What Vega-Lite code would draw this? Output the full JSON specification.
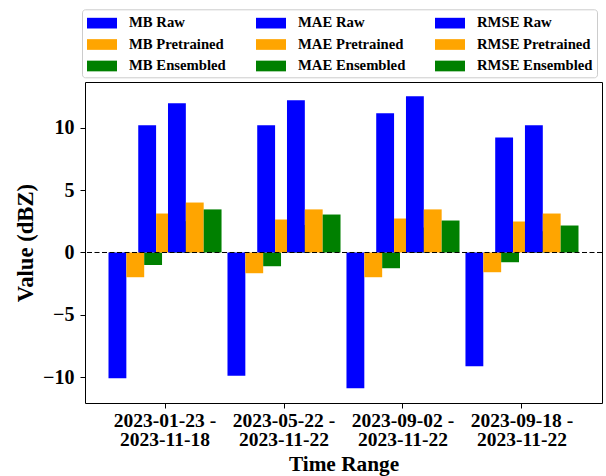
{
  "$schema": "https://vega.github.io/schema/vega-lite/v6.json",
  "width": 517,
  "height": 321,
  "autosize": {"type": "none"},
  "padding": {"left": 85, "top": 82, "right": 4, "bottom": 73},
  "background": "white",
  "config": {
    "font": "Liberation Serif",
    "view": {"stroke": "black", "strokeWidth": 1},
    "axis": {
      "labelFont": "Liberation Serif",
      "titleFont": "Liberation Serif",
      "labelFontWeight": "bold",
      "titleFontWeight": "bold",
      "labelColor": "black",
      "titleColor": "black",
      "tickColor": "black",
      "tickSize": 5,
      "grid": false,
      "domain": false
    },
    "legend": {
      "orient": "none",
      "legendX": -3,
      "legendY": -72.7,
      "columns": 3,
      "symbolType": "M-1.5,-0.535H1.5V0.535H-1.5Z",
      "symbolSize": 400,
      "symbolStrokeWidth": 0,
      "symbolOffset": 6.3,
      "labelFont": "Liberation Serif",
      "labelFontWeight": "bold",
      "labelFontSize": 14.7,
      "labelColor": "black",
      "labelOffset": 17,
      "columnPadding": 28,
      "rowPadding": 4.5,
      "padding": 3.7,
      "strokeColor": "#cccccc",
      "fillColor": "white",
      "cornerRadius": 3
    }
  },
  "data": {
    "values": [
      {"range": "2023-01-23 - 2023-11-18", "metric": "MB", "model": "Raw", "series": "MB Raw", "value": -10.07},
      {"range": "2023-01-23 - 2023-11-18", "metric": "MB", "model": "Pretrained", "series": "MB Pretrained", "value": -1.98},
      {"range": "2023-01-23 - 2023-11-18", "metric": "MB", "model": "Ensembled", "series": "MB Ensembled", "value": -1.0},
      {"range": "2023-01-23 - 2023-11-18", "metric": "MAE", "model": "Raw", "series": "MAE Raw", "value": 10.18},
      {"range": "2023-01-23 - 2023-11-18", "metric": "MAE", "model": "Pretrained", "series": "MAE Pretrained", "value": 3.12},
      {"range": "2023-01-23 - 2023-11-18", "metric": "MAE", "model": "Ensembled", "series": "MAE Ensembled", "value": 2.5},
      {"range": "2023-01-23 - 2023-11-18", "metric": "RMSE", "model": "Raw", "series": "RMSE Raw", "value": 11.94},
      {"range": "2023-01-23 - 2023-11-18", "metric": "RMSE", "model": "Pretrained", "series": "RMSE Pretrained", "value": 4.0},
      {"range": "2023-01-23 - 2023-11-18", "metric": "RMSE", "model": "Ensembled", "series": "RMSE Ensembled", "value": 3.45},
      {"range": "2023-05-22 - 2023-11-22", "metric": "MB", "model": "Raw", "series": "MB Raw", "value": -9.86},
      {"range": "2023-05-22 - 2023-11-22", "metric": "MB", "model": "Pretrained", "series": "MB Pretrained", "value": -1.66},
      {"range": "2023-05-22 - 2023-11-22", "metric": "MB", "model": "Ensembled", "series": "MB Ensembled", "value": -1.1},
      {"range": "2023-05-22 - 2023-11-22", "metric": "MAE", "model": "Raw", "series": "MAE Raw", "value": 10.18},
      {"range": "2023-05-22 - 2023-11-22", "metric": "MAE", "model": "Pretrained", "series": "MAE Pretrained", "value": 2.64},
      {"range": "2023-05-22 - 2023-11-22", "metric": "MAE", "model": "Ensembled", "series": "MAE Ensembled", "value": 2.2},
      {"range": "2023-05-22 - 2023-11-22", "metric": "RMSE", "model": "Raw", "series": "RMSE Raw", "value": 12.18},
      {"range": "2023-05-22 - 2023-11-22", "metric": "RMSE", "model": "Pretrained", "series": "RMSE Pretrained", "value": 3.45},
      {"range": "2023-05-22 - 2023-11-22", "metric": "RMSE", "model": "Ensembled", "series": "RMSE Ensembled", "value": 3.04},
      {"range": "2023-09-02 - 2023-11-22", "metric": "MB", "model": "Raw", "series": "MB Raw", "value": -10.87},
      {"range": "2023-09-02 - 2023-11-22", "metric": "MB", "model": "Pretrained", "series": "MB Pretrained", "value": -1.98},
      {"range": "2023-09-02 - 2023-11-22", "metric": "MB", "model": "Ensembled", "series": "MB Ensembled", "value": -1.26},
      {"range": "2023-09-02 - 2023-11-22", "metric": "MAE", "model": "Raw", "series": "MAE Raw", "value": 11.14},
      {"range": "2023-09-02 - 2023-11-22", "metric": "MAE", "model": "Pretrained", "series": "MAE Pretrained", "value": 2.72},
      {"range": "2023-09-02 - 2023-11-22", "metric": "MAE", "model": "Ensembled", "series": "MAE Ensembled", "value": 2.0},
      {"range": "2023-09-02 - 2023-11-22", "metric": "RMSE", "model": "Raw", "series": "RMSE Raw", "value": 12.5},
      {"range": "2023-09-02 - 2023-11-22", "metric": "RMSE", "model": "Pretrained", "series": "RMSE Pretrained", "value": 3.45},
      {"range": "2023-09-02 - 2023-11-22", "metric": "RMSE", "model": "Ensembled", "series": "RMSE Ensembled", "value": 2.56},
      {"range": "2023-09-18 - 2023-11-22", "metric": "MB", "model": "Raw", "series": "MB Raw", "value": -9.11},
      {"range": "2023-09-18 - 2023-11-22", "metric": "MB", "model": "Pretrained", "series": "MB Pretrained", "value": -1.58},
      {"range": "2023-09-18 - 2023-11-22", "metric": "MB", "model": "Ensembled", "series": "MB Ensembled", "value": -0.78},
      {"range": "2023-09-18 - 2023-11-22", "metric": "MAE", "model": "Raw", "series": "MAE Raw", "value": 9.21},
      {"range": "2023-09-18 - 2023-11-22", "metric": "MAE", "model": "Pretrained", "series": "MAE Pretrained", "value": 2.48},
      {"range": "2023-09-18 - 2023-11-22", "metric": "MAE", "model": "Ensembled", "series": "MAE Ensembled", "value": 1.7},
      {"range": "2023-09-18 - 2023-11-22", "metric": "RMSE", "model": "Raw", "series": "RMSE Raw", "value": 10.18},
      {"range": "2023-09-18 - 2023-11-22", "metric": "RMSE", "model": "Pretrained", "series": "RMSE Pretrained", "value": 3.12},
      {"range": "2023-09-18 - 2023-11-22", "metric": "RMSE", "model": "Ensembled", "series": "RMSE Ensembled", "value": 2.16}
    ]
  },
  "encoding": {
    "x": {
      "field": "range",
      "type": "nominal",
      "title": "Time Range",
      "scale": {"paddingInner": 0.05, "paddingOuter": 0.1975},
      "axis": {
        "labelAngle": 0,
        "labelFontSize": 19.5,
        "labelLineHeight": 19.5,
        "labelPadding": 3,
        "labelExpr": "[substring(datum.value, 0, 12), substring(datum.value, 13)]",
        "titleFontSize": 21.3,
        "titlePadding": 4
      }
    },
    "y": {
      "field": "value",
      "type": "quantitative",
      "title": "Value (dBZ)",
      "scale": {"domain": [-12.05, 13.65], "nice": false, "zero": false},
      "axis": {
        "values": [-10, -5, 0, 5, 10],
        "labelFontSize": 20,
        "labelPadding": 6,
        "titleFontSize": 22.7,
        "titlePadding": 5
      }
    },
    "y2": {"datum": 0},
    "color": {
      "field": "series",
      "type": "nominal",
      "title": null,
      "scale": {
        "domain": ["MB Raw", "MB Pretrained", "MB Ensembled", "MAE Raw", "MAE Pretrained", "MAE Ensembled", "RMSE Raw", "RMSE Pretrained", "RMSE Ensembled"],
        "range": ["#0000ff", "#ffa500", "#008000", "#0000ff", "#ffa500", "#008000", "#0000ff", "#ffa500", "#008000"]
      }
    }
  },
  "layer": [
    {
      "transform": [{"filter": "datum.metric === 'MB'"}],
      "mark": {"type": "bar"},
      "encoding": {
        "xOffset": {"field": "model", "type": "nominal", "scale": {"domain": ["Raw", "Pretrained", "Ensembled", "_4", "_5", "_6"], "paddingInner": 0, "paddingOuter": 0.16667, "align": 0}}
      }
    },
    {
      "transform": [{"filter": "datum.metric === 'MAE'"}],
      "mark": {"type": "bar"},
      "encoding": {
        "xOffset": {"field": "model", "type": "nominal", "scale": {"domain": ["_1", "Raw", "Pretrained", "Ensembled", "_5"], "paddingInner": 0, "paddingOuter": 0.66667, "align": 0.5}}
      }
    },
    {
      "transform": [{"filter": "datum.metric === 'RMSE'"}],
      "mark": {"type": "bar"},
      "encoding": {
        "xOffset": {"field": "model", "type": "nominal", "scale": {"domain": ["_1", "_2", "_3", "Raw", "Pretrained", "Ensembled"], "paddingInner": 0, "paddingOuter": 0.16667, "align": 1}}
      }
    },
    {
      "data": {"values": [{"zero": 0}]},
      "mark": {"type": "rule", "color": "black", "strokeWidth": 1, "strokeDash": [5, 2.5]},
      "encoding": {"y": {"field": "zero", "type": "quantitative"}, "y2": null, "x": null, "color": null}
    }
  ],
  "resolve": {"scale": {"xOffset": "independent"}}
}
